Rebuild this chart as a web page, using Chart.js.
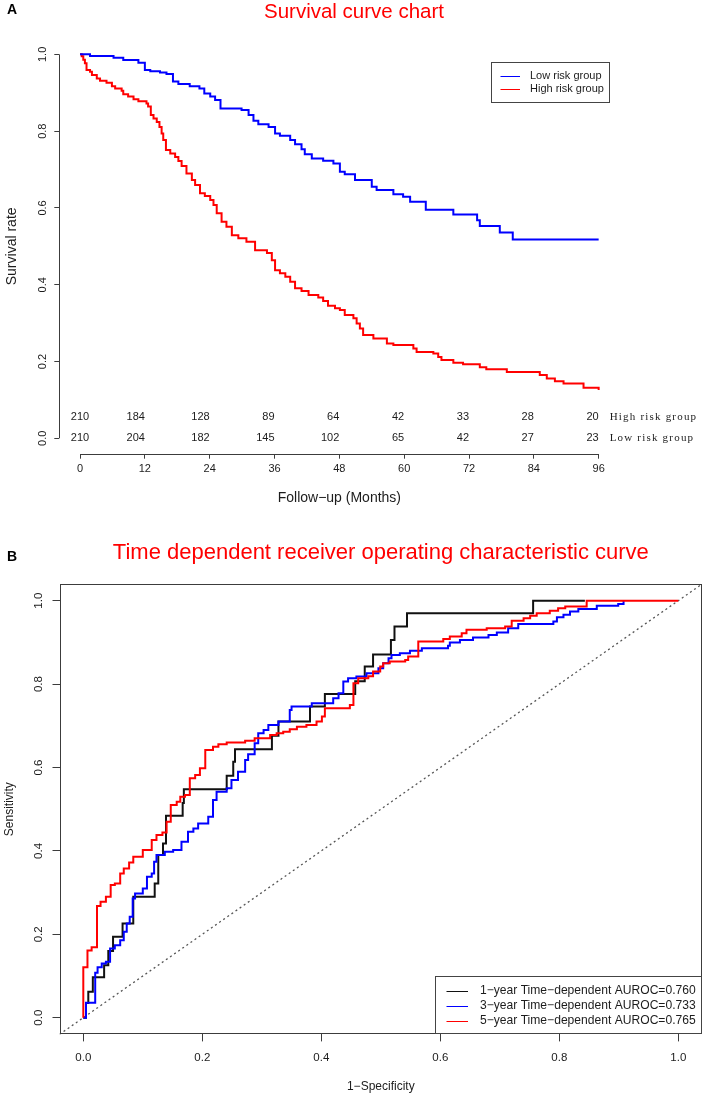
<!DOCTYPE html>
<html>
<head>
<meta charset="utf-8">
<script src="https://cdn.jsdelivr.net/npm/chart.js@4.4.1/dist/chart.umd.min.js"></script>
<style>
html,body{margin:0;padding:0;background:#fff;}
#wrap{position:relative;width:708px;height:1099px;overflow:hidden;background:#fff;}
canvas{position:absolute;left:0;}
#cA{top:0;}
#cB{top:520px;}
</style>
</head>
<body>
<div id="wrap">
<canvas id="cA" width="708" height="520"></canvas>
<canvas id="cB" width="708" height="579"></canvas>
</div>
<script>
// ---------------- DATA : panel A (Kaplan-Meier) ----------------
const riskTimes = [0, 12, 24, 36, 48, 60, 72, 84, 96];
const survYTicks = [0, 0.2, 0.4, 0.6, 0.8, 1.0];
const riskGroupNames = ['High risk group', 'Low risk group'];
const atRiskHigh = [210, 184, 128, 89, 64, 42, 33, 28, 20];
const atRiskLow  = [210, 204, 182, 145, 102, 65, 42, 27, 23];
const kmLabels = ['Low risk group', 'High risk group'];

const kmTimeLow = [0, 1.85, 6.2, 8.0, 10.8, 12.0, 13.0, 14.8, 16.0, 17.2, 18.2, 20.3, 22.1, 23.0, 24.1, 25.0, 26.0, 29.9, 31.2, 32.1, 33.0, 34.9, 36.1, 37.0, 38.9, 39.8, 41.0, 41.6, 42.9, 45.0, 46.9, 48.1, 49.0, 50.9, 54.0, 54.9, 58.0, 59.8, 61.1, 64.0, 69.1, 73.5, 74.0, 77.7, 80.1, 96];
const kmSurvLow = [1, 0.9955, 0.991, 0.985, 0.978, 0.959, 0.956, 0.953, 0.949, 0.929, 0.923, 0.917, 0.911, 0.898, 0.890, 0.881, 0.859, 0.855, 0.842, 0.827, 0.818, 0.811, 0.794, 0.788, 0.777, 0.766, 0.753, 0.740, 0.729, 0.723, 0.716, 0.694, 0.688, 0.673, 0.655, 0.647, 0.636, 0.629, 0.616, 0.595, 0.583, 0.568, 0.553, 0.536, 0.518, 0.518];

const kmTimeHigh = [0, 0.3, 0.6, 0.9, 1.2, 1.85, 2.2, 3.1, 3.7, 4.9, 5.9, 6.5, 7.7, 8.0, 8.9, 9.9, 10.8, 12.3, 12.6, 13.1, 13.6, 14.2, 14.7, 15.1, 15.4, 15.9, 16.7, 17.6, 18.2, 18.8, 19.7, 20.7, 21.3, 22.2, 23.1, 24.1, 24.7, 25.3, 26.2, 27.1, 28.1, 29.3, 30.8, 32.4, 34.6, 35.5, 36.1, 37.0, 38.0, 38.9, 39.8, 41.0, 42.3, 44.1, 45.0, 45.9, 47.2, 48.1, 49.0, 50.6, 51.2, 51.8, 52.4, 54.3, 56.8, 58.0, 61.7, 62.3, 65.4, 66.3, 66.9, 69.1, 70.9, 74.0, 75.2, 79.0, 85.1, 86.4, 87.9, 89.5, 93.2, 96.0];
const kmSurvHigh = [1, 0.995, 0.986, 0.977, 0.959, 0.955, 0.946, 0.937, 0.931, 0.926, 0.917, 0.911, 0.905, 0.896, 0.890, 0.883, 0.878, 0.872, 0.864, 0.842, 0.833, 0.824, 0.811, 0.794, 0.777, 0.751, 0.742, 0.733, 0.722, 0.709, 0.690, 0.673, 0.660, 0.638, 0.631, 0.621, 0.608, 0.586, 0.564, 0.551, 0.529, 0.521, 0.512, 0.490, 0.483, 0.464, 0.438, 0.430, 0.421, 0.408, 0.391, 0.384, 0.373, 0.367, 0.358, 0.345, 0.339, 0.334, 0.321, 0.313, 0.299, 0.286, 0.269, 0.260, 0.247, 0.243, 0.234, 0.225, 0.221, 0.212, 0.204, 0.197, 0.193, 0.185, 0.180, 0.173, 0.165, 0.156, 0.149, 0.143, 0.132, 0.126];

// ---------------- DATA : panel B (time-dependent ROC) ----------------
const rocTicks = [0, 0.2, 0.4, 0.6, 0.8, 1.0];
const rocYears = [1, 3, 5];
const rocAuroc = [0.760, 0.733, 0.765];

const fpr1 = [0, 0.0045, 0.0084, 0.016, 0.035, 0.042, 0.05, 0.066, 0.084, 0.12, 0.126, 0.134, 0.139, 0.167, 0.169, 0.241, 0.252, 0.255, 0.317, 0.328, 0.381, 0.406, 0.457, 0.473, 0.487, 0.517, 0.523, 0.544, 0.756, 0.843];
const tpr1 = [0, 0.035, 0.062, 0.097, 0.126, 0.16, 0.194, 0.226, 0.29, 0.322, 0.39, 0.418, 0.484, 0.515, 0.548, 0.58, 0.614, 0.644, 0.676, 0.71, 0.746, 0.776, 0.807, 0.842, 0.871, 0.906, 0.938, 0.97, 1.0, 1.0];

const fpr3 = [0, 0.0045, 0.02, 0.024, 0.031, 0.038, 0.045, 0.053, 0.062, 0.068, 0.073, 0.078, 0.083, 0.087, 0.1, 0.107, 0.115, 0.119, 0.123, 0.137, 0.151, 0.165, 0.176, 0.185, 0.193, 0.21, 0.218, 0.224, 0.241, 0.249, 0.26, 0.272, 0.277, 0.288, 0.294, 0.303, 0.311, 0.328, 0.347, 0.35, 0.384, 0.42, 0.429, 0.437, 0.445, 0.459, 0.476, 0.496, 0.504, 0.513, 0.518, 0.532, 0.549, 0.569, 0.613, 0.616, 0.633, 0.655, 0.681, 0.695, 0.714, 0.731, 0.79, 0.796, 0.807, 0.818, 0.832, 0.863, 0.899, 0.908];
const tpr3 = [0, 0.036, 0.108, 0.121, 0.13, 0.134, 0.166, 0.174, 0.186, 0.206, 0.226, 0.242, 0.286, 0.298, 0.31, 0.338, 0.346, 0.374, 0.39, 0.398, 0.402, 0.422, 0.446, 0.454, 0.466, 0.482, 0.522, 0.542, 0.55, 0.57, 0.59, 0.618, 0.632, 0.658, 0.682, 0.69, 0.702, 0.71, 0.738, 0.746, 0.754, 0.766, 0.778, 0.806, 0.814, 0.818, 0.826, 0.838, 0.85, 0.862, 0.87, 0.874, 0.88, 0.886, 0.892, 0.9, 0.906, 0.912, 0.918, 0.924, 0.934, 0.944, 0.95, 0.96, 0.966, 0.974, 0.98, 0.988, 0.992, 1.0];

const fpr5 = [0, 0, 0.007, 0.014, 0.023, 0.029, 0.038, 0.046, 0.053, 0.062, 0.068, 0.077, 0.084, 0.1, 0.115, 0.123, 0.133, 0.14, 0.147, 0.157, 0.163, 0.171, 0.179, 0.188, 0.196, 0.205, 0.218, 0.227, 0.241, 0.272, 0.288, 0.314, 0.325, 0.336, 0.347, 0.359, 0.375, 0.392, 0.401, 0.406, 0.448, 0.454, 0.462, 0.479, 0.487, 0.499, 0.504, 0.515, 0.541, 0.546, 0.563, 0.605, 0.616, 0.636, 0.644, 0.678, 0.709, 0.72, 0.74, 0.751, 0.762, 0.784, 0.798, 0.81, 0.846, 1.0];
const tpr5 = [0, 0.121, 0.161, 0.169, 0.268, 0.278, 0.29, 0.318, 0.322, 0.346, 0.358, 0.372, 0.386, 0.402, 0.426, 0.438, 0.444, 0.47, 0.51, 0.518, 0.53, 0.534, 0.574, 0.582, 0.598, 0.642, 0.65, 0.656, 0.66, 0.664, 0.67, 0.678, 0.682, 0.686, 0.692, 0.698, 0.702, 0.71, 0.722, 0.742, 0.75, 0.802, 0.814, 0.819, 0.83, 0.842, 0.85, 0.854, 0.858, 0.866, 0.902, 0.908, 0.914, 0.922, 0.93, 0.934, 0.938, 0.952, 0.958, 0.964, 0.97, 0.976, 0.982, 0.986, 1.0, 1.0];

const diagX = [-0.04, 1.04];
const diagY = [-0.04, 1.04];

// ---------------- STYLE ----------------
const FONT = "'Liberation Sans', Arial, Helvetica, sans-serif";
const SERIF = "'Liberation Serif', 'Times New Roman', serif";
const AXIS = '#3c3c3c';
const TEXT = '#1c1c1c';
const RED = '#ff0000';
const BLUE = '#0000ff';
const BLACK = '#111111';

const zip = (xs, ys) => xs.map((x, i) => ({ x: x, y: ys[i] }));
const crisp = v => Math.round(v) + 0.5;

// ---------------- PANEL A ----------------
const panelA = {
  id: 'panelA',
  afterDraw(chart) {
    const { ctx, chartArea: ca, scales: { x, y } } = chart;
    ctx.save();
    ctx.strokeStyle = AXIS; ctx.lineWidth = 1;
    ctx.beginPath();
    const ax = crisp(ca.left);
    ctx.moveTo(ax, y.getPixelForValue(survYTicks[0]));
    ctx.lineTo(ax, y.getPixelForValue(survYTicks[survYTicks.length - 1]));
    const ay = Math.round(ca.bottom) + 0.5;
    ctx.moveTo(x.getPixelForValue(riskTimes[0]), ay);
    ctx.lineTo(x.getPixelForValue(riskTimes[riskTimes.length - 1]), ay);
    ctx.stroke();

    ctx.fillStyle = TEXT;
    ctx.font = `11px ${FONT}`;
    ctx.textAlign = 'center'; ctx.textBaseline = 'middle';
    survYTicks.forEach(v => {
      ctx.save();
      ctx.translate(42.5, y.getPixelForValue(v));
      ctx.rotate(-Math.PI / 2);
      ctx.fillText(v.toFixed(1), 0, 0);
      ctx.restore();
    });

    const rowLow = y.getPixelForValue(0);
    const rowHigh = rowLow - 21;
    ctx.font = `11px ${FONT}`;
    riskTimes.forEach((t, i) => {
      const px = x.getPixelForValue(t);
      ctx.textAlign = i === 0 ? 'center' : 'right';
      ctx.fillText(String(atRiskHigh[i]), px, rowHigh);
      ctx.fillText(String(atRiskLow[i]), px, rowLow);
    });
    ctx.font = `11px ${SERIF}`;
    ctx.textAlign = 'left';
    try { ctx.letterSpacing = '1.2px'; } catch (e) {}
    const lx = x.getPixelForValue(riskTimes[riskTimes.length - 1]) + 11;
    ctx.fillText(riskGroupNames[0], lx, rowHigh);
    ctx.fillText(riskGroupNames[1], lx, rowLow);
    try { ctx.letterSpacing = '0px'; } catch (e) {}

    ctx.fillStyle = '#fff';
    ctx.fillRect(491.5, 62.5, 118, 40);
    ctx.strokeStyle = '#444'; ctx.lineWidth = 1;
    ctx.strokeRect(491.5, 62.5, 118, 40);
    ctx.font = `11px ${FONT}`;
    ctx.textBaseline = 'middle';
    chart.data.datasets.forEach((ds, i) => {
      const ly = 76 + i * 13;
      ctx.strokeStyle = ds.borderColor; ctx.lineWidth = 1;
      ctx.beginPath(); ctx.moveTo(500.5, ly + 0.5); ctx.lineTo(520, ly + 0.5); ctx.stroke();
      ctx.fillStyle = TEXT;
      ctx.fillText(ds.label, 530, ly);
    });

    ctx.fillStyle = RED;
    ctx.font = `20.5px ${FONT}`;
    ctx.textAlign = 'center';
    ctx.fillText('Survival curve chart', 354, 12.5);
    ctx.fillStyle = '#000';
    ctx.font = `bold 14px ${FONT}`;
    ctx.textAlign = 'left';
    ctx.fillText('A', 7, 10.5);
    ctx.restore();
  }
};

new Chart(document.getElementById('cA'), {
  type: 'line',
  data: {
    datasets: [
      { label: kmLabels[0], data: zip(kmTimeLow, kmSurvLow), borderColor: BLUE, borderWidth: 2, stepped: 'before', pointRadius: 0, fill: false },
      { label: kmLabels[1], data: zip(kmTimeHigh, kmSurvHigh), borderColor: RED, borderWidth: 2, stepped: 'before', pointRadius: 0, fill: false }
    ]
  },
  options: {
    responsive: false, animation: false, devicePixelRatio: 1,
    layout: { padding: { left: 0, top: 39, right: 708 - 619.4, bottom: 0 } },
    plugins: { legend: { display: false }, tooltip: { enabled: false }, title: { display: false } },
    scales: {
      x: {
        type: 'linear', min: -3.84, max: 99.84,
        afterBuildTicks: s => { s.ticks = riskTimes.map(v => ({ value: v })); },
        afterFit: s => { s.height = 66.3; },
        grid: { drawOnChartArea: false, drawTicks: true, tickLength: 5, color: AXIS, lineWidth: 1 },
        border: { display: false },
        ticks: { font: { family: FONT, size: 11 }, color: TEXT, padding: 3.7, maxRotation: 0, minRotation: 0, autoSkip: false, callback: v => String(v) },
        title: { display: true, text: 'Follow−up (Months)', font: { family: FONT, size: 14 }, color: TEXT, padding: { top: 0, bottom: 13.6 } }
      },
      y: {
        type: 'linear', min: -0.04, max: 1.04,
        afterBuildTicks: s => { s.ticks = survYTicks.map(v => ({ value: v })); },
        afterFit: s => { s.width = 59.3; },
        grid: { drawOnChartArea: false, drawTicks: true, tickLength: 5, color: AXIS, lineWidth: 1 },
        border: { display: false },
        ticks: { display: false },
        title: { display: true, text: 'Survival rate', font: { family: FONT, size: 14 }, color: TEXT, padding: { top: 3.6, bottom: 0 } }
      }
    }
  },
  plugins: [panelA]
});

// ---------------- PANEL B ----------------
const panelB = {
  id: 'panelB',
  afterDraw(chart) {
    const { ctx, chartArea: ca, scales: { y } } = chart;
    ctx.save();
    ctx.strokeStyle = AXIS; ctx.lineWidth = 1;
    const L = crisp(ca.left), R = Math.round(ca.right) - 0.5, T = crisp(ca.top), B = Math.round(ca.bottom) - 0.5;
    ctx.strokeRect(L, T, R - L, B - T);

    ctx.fillStyle = TEXT;
    ctx.font = `11.5px ${FONT}`;
    ctx.textAlign = 'center'; ctx.textBaseline = 'middle';
    rocTicks.forEach(v => {
      ctx.save();
      ctx.translate(38.7, y.getPixelForValue(v));
      ctx.rotate(-Math.PI / 2);
      ctx.fillText(v.toFixed(1), 0, 0);
      ctx.restore();
    });

    const lx0 = 435.5, ly0 = 456.5;
    ctx.fillStyle = '#fff';
    ctx.fillRect(lx0, ly0, R - lx0, B - ly0);
    ctx.strokeStyle = '#444'; ctx.lineWidth = 1;
    ctx.strokeRect(lx0, ly0, R - lx0, B - ly0);
    ctx.font = `12.1px ${FONT}`;
    ctx.textAlign = 'left'; ctx.textBaseline = 'middle';
    chart.data.datasets.filter(d => d.inLegend).forEach((ds, i) => {
      const ly = 471 + i * 14.8;
      ctx.strokeStyle = ds.borderColor; ctx.lineWidth = 1;
      ctx.beginPath(); ctx.moveTo(446.5, Math.round(ly) + 0.5); ctx.lineTo(468, Math.round(ly) + 0.5); ctx.stroke();
      ctx.fillStyle = TEXT;
      ctx.fillText(ds.label, 480, ly);
    });

    ctx.fillStyle = RED;
    ctx.font = `22px ${FONT}`;
    ctx.textAlign = 'center';
    ctx.fillText('Time dependent receiver operating characteristic curve', (ca.left + ca.right) / 2, 33);
    ctx.fillStyle = '#000';
    ctx.font = `bold 14px ${FONT}`;
    ctx.textAlign = 'left';
    ctx.fillText('B', 7, 37.2);
    ctx.restore();
  }
};

const rocLabel = i => `${rocYears[i]}−year Time−dependent AUROC=${rocAuroc[i].toFixed(3)}`;

new Chart(document.getElementById('cB'), {
  type: 'line',
  data: {
    datasets: [
      { label: rocLabel(0), inLegend: true, order: 2, data: zip(fpr1, tpr1), borderColor: BLACK, borderWidth: 2, stepped: 'before', pointRadius: 0, fill: false },
      { label: rocLabel(1), inLegend: true, order: 1, data: zip(fpr3, tpr3), borderColor: BLUE, borderWidth: 2, stepped: 'before', pointRadius: 0, fill: false },
      { label: rocLabel(2), inLegend: true, order: 0, data: zip(fpr5, tpr5), borderColor: RED, borderWidth: 2, stepped: 'before', pointRadius: 0, fill: false },
      { label: 'reference', inLegend: false, order: 3, data: zip(diagX, diagY), borderColor: '#555555', borderWidth: 1.3, borderDash: [2, 3], pointRadius: 0, fill: false }
    ]
  },
  options: {
    responsive: false, animation: false, devicePixelRatio: 1,
    layout: { padding: { left: 0, top: 64, right: 708 - 702.1, bottom: 0 } },
    plugins: { legend: { display: false }, tooltip: { enabled: false }, title: { display: false } },
    scales: {
      x: {
        type: 'linear', min: -0.04, max: 1.04,
        afterBuildTicks: s => { s.ticks = rocTicks.map(v => ({ value: v })); },
        afterFit: s => { s.height = 579 - 514.4; },
        grid: { drawOnChartArea: false, drawTicks: true, tickLength: 7, color: AXIS, lineWidth: 1 },
        border: { display: false },
        ticks: { font: { family: FONT, size: 11.5 }, color: TEXT, padding: 9.4, maxRotation: 0, minRotation: 0, autoSkip: false, callback: v => Number(v).toFixed(1) },
        title: { display: true, text: '1−Specificity', font: { family: FONT, size: 12 }, color: TEXT, padding: { top: 0, bottom: 5.1 } }
      },
      y: {
        type: 'linear', min: -0.04, max: 1.04,
        afterBuildTicks: s => { s.ticks = rocTicks.map(v => ({ value: v })); },
        afterFit: s => { s.width = 59.5; },
        grid: { drawOnChartArea: false, drawTicks: true, tickLength: 7, color: AXIS, lineWidth: 1 },
        border: { display: false },
        ticks: { display: false },
        title: { display: true, text: 'Sensitivity', font: { family: FONT, size: 12 }, color: TEXT, padding: { top: 2.8, bottom: 0 } }
      }
    }
  },
  plugins: [panelB]
});
</script>
</body>
</html>
